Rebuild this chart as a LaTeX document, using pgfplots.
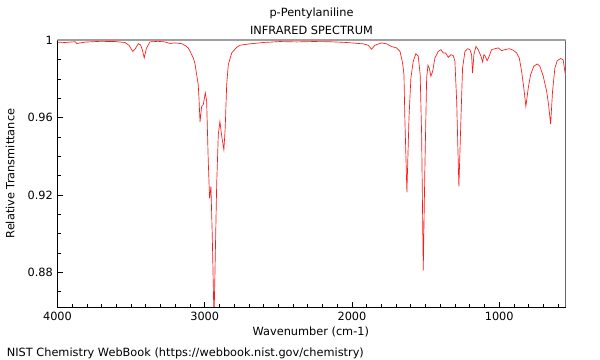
\documentclass[border=0pt]{standalone}
\usepackage{fontspec}
\setmainfont{DejaVu Sans}
\usepackage{pgfplots}
\pgfplotsset{compat=1.18}
\begin{document}
\begin{tikzpicture}[x=1pt,y=1pt]
\useasboundingbox (-43.125,-39.75) rectangle (406.875,230.25);
\begin{axis}[at={(0,0)}, anchor=south west, scale only axis,
  width=381pt, height=200.25pt,
  x dir=reverse, xmin=550, xmax=4000, ymin=0.862, ymax=1.0003,
  xtick={1000,2000,3000,4000}, xticklabels={1000,2000,3000,4000},
  minor xtick={600,700,...,3900},
  ytick={0.88,0.92,0.96,1}, yticklabels={0.88,0.92,0.96,1},
  minor ytick={0.87,0.89,0.90,0.91,0.93,0.94,0.95,0.97,0.98,0.99},
  xtick pos=lower, ytick pos=left,
  major tick length=4pt, minor tick length=2.5pt,
  tick style={black, line width=0.6pt},
  axis line style={black, line width=0.6pt},
  tick label style={font=\fontsize{8.5}{10}\selectfont},
  /pgf/number format/assume math mode=true,
  clip=true,
]
\addplot[red!90!white, line width=0.5pt] table {
4000 0.9992
3949 0.9990
3881 0.9994
3868 0.9985
3813 0.9992
3711 0.9996
3610 0.9995
3542 0.9990
3514 0.9975
3489 0.9944
3474 0.9955
3451 0.9984
3436 0.9978
3423 0.9950
3411 0.9910
3396 0.9960
3372 0.9993
3318 0.9996
3270 0.9993
3236 0.9985
3202 0.9988
3157 0.9984
3134 0.9975
3112 0.9962
3100 0.9945
3078 0.9910
3066 0.9880
3055 0.9824
3044 0.9770
3039 0.9700
3032 0.9578
3021 0.9659
3010 0.9668
2996 0.9729
2987 0.9685
2976 0.9373
2967 0.9183
2958 0.9244
2949 0.8993
2937 0.8550
2931 0.8785
2919 0.9252
2908 0.9512
2897 0.9581
2886 0.9512
2870 0.9434
2861 0.9547
2851 0.9771
2840 0.9875
2817 0.9936
2783 0.9965
2761 0.9976
2693 0.9983
2603 0.9990
2489 0.9995
2376 0.9993
2263 0.9995
2150 0.9994
2036 0.9990
1924 0.9983
1890 0.9976
1867 0.9955
1844 0.9976
1799 0.9988
1765 0.9983
1731 0.9969
1697 0.9962
1674 0.9944
1659 0.9893
1652 0.9858
1647 0.9823
1641 0.9598
1627 0.9214
1613 0.9598
1600 0.9806
1584 0.9893
1566 0.9932
1550 0.9919
1537 0.9824
1527 0.9512
1516 0.8810
1505 0.9339
1493 0.9806
1484 0.9872
1475 0.9858
1464 0.9815
1452 0.9841
1437 0.9910
1414 0.9944
1396 0.9953
1380 0.9936
1364 0.9936
1346 0.9913
1328 0.9927
1312 0.9922
1301 0.9893
1289 0.9685
1274 0.9243
1260 0.9598
1249 0.9858
1233 0.9944
1215 0.9958
1199 0.9953
1188 0.9927
1181 0.9832
1172 0.9927
1158 0.9970
1143 0.9953
1124 0.9919
1113 0.9889
1104 0.9927
1095 0.9919
1082 0.9896
1068 0.9919
1052 0.9953
1029 0.9958
1007 0.9962
984 0.9948
961 0.9953
932 0.9958
905 0.9950
882 0.9936
864 0.9910
848 0.9841
833 0.9754
819 0.9659
803 0.9754
787 0.9823
765 0.9867
742 0.9879
724 0.9867
701 0.9815
678 0.9737
665 0.9668
651 0.9567
638 0.9737
622 0.9858
606 0.9896
583 0.9907
566 0.9901
551 0.9823
};
\draw[gray!75, line width=1.5pt] (rel axis cs:0,1) -- (rel axis cs:1,1);
\draw[gray!75, line width=1pt] (rel axis cs:1,1) -- (rel axis cs:1,0);
\end{axis}
\node[font=\fontsize{8.5}{10}\selectfont] at (190.5,220.5) {p-Pentylaniline};
\node[font=\fontsize{8.5}{10}\selectfont] at (190.5,207.75) {INFRARED SPECTRUM};
\node[font=\fontsize{8.5}{10}\selectfont, rotate=90] at (-35.6,100.1) {Relative Transmittance};
\node[font=\fontsize{8.5}{10}\selectfont] at (190,-18.75) {Wavenumber (cm-1)};
\node[font=\fontsize{8.5}{10}\selectfont, anchor=west] at (-41.5,-34.5) {NIST Chemistry WebBook (https://webbook.nist.gov/chemistry)};
\end{tikzpicture}
\end{document}
